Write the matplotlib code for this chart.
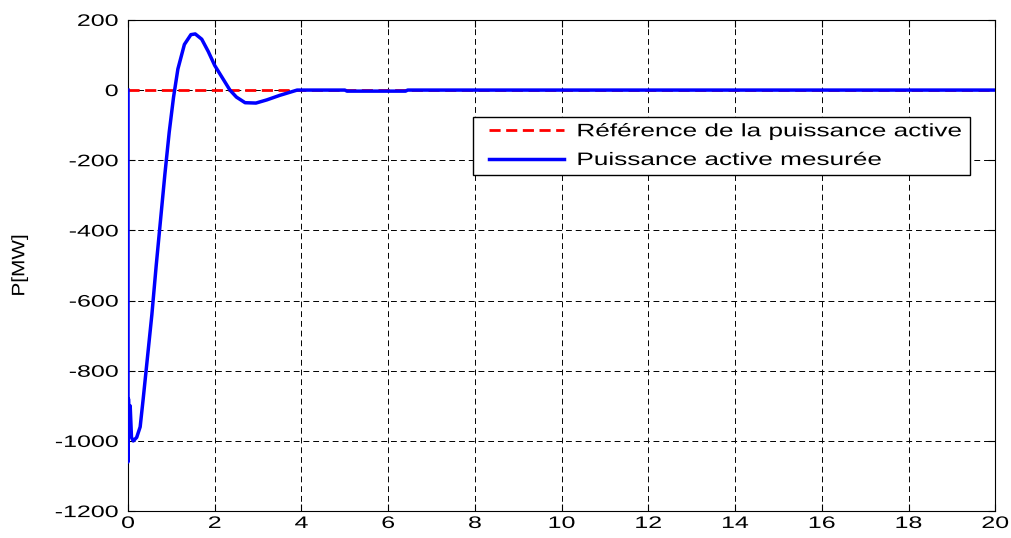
import numpy as np
import matplotlib.pyplot as plt
from matplotlib.patheffects import AbstractPathEffect
from matplotlib.transforms import Affine2D
from matplotlib.legend_handler import HandlerLine2D

plt.rcParams['font.family'] = ['Liberation Sans', 'DejaVu Sans']
plt.rcParams['axes.unicode_minus'] = False

# reference (setpoint) of active power
t_ref = [0, 20]
p_ref = [0, 0]

# measured active power [MW]
t_mes = [0, 0, 0.01, 0.03, 0.05, 0.08, 0.12, 0.2, 0.28, 0.35, 0.45, 0.55,
         0.65, 0.75, 0.85, 0.95, 1.05, 1.15, 1.3, 1.45, 1.55, 1.7, 1.85,
         2.0, 2.2, 2.35, 2.5, 2.7, 2.95, 3.2, 3.5, 3.9, 5.0, 5.05, 6.4,
         6.45, 20]
p_mes = [0, -1060, -880, -960, -900, -990, -1000, -990, -960, -880, -760,
         -640, -500, -370, -240, -120, -20, 60, 130, 158, 160, 145, 110,
         70, 30, 0, -20, -36, -37, -28, -15, 0, 0, -3, -3, 0, 0]


class Widen(AbstractPathEffect):
    """Draw text glyphs stretched along the text direction."""

    def __init__(self, sx, frac):
        super().__init__()
        self.sx = sx
        self.frac = frac  # 0 = keep left end, 0.5 = centre, 1 = right end

    def draw_path(self, renderer, gc, tpath, affine, rgbFace=None):
        ext = tpath.get_extents()
        px = ext.x0 + self.frac * ext.width
        pre = Affine2D().translate(-px, 0).scale(self.sx, 1).translate(px, 0)
        renderer.draw_path(gc, tpath, pre + affine, rgbFace)


fig = plt.figure(figsize=(10.12, 5.38), dpi=100)
ax = fig.add_axes([0.1265, 0.05, 0.857, 0.913])

l_ref, = ax.plot(t_ref, p_ref, color='red', linestyle='--', linewidth=2,
                 dashes=(4, 2), label='Référence de la puissance active',
                 zorder=3)
l_mes, = ax.plot(t_mes, p_mes, color='blue', linewidth=2.5,
                 label='Puissance active mesurée', zorder=4)

ax.set_xlim(0, 20)
ax.set_ylim(-1200, 200)
ax.set_xticks(np.arange(0, 21, 2))
ax.set_yticks(np.arange(-1200, 201, 200))
ax.grid(True, color='black', linestyle=(0, (6, 4)), linewidth=0.7)
ax.tick_params(direction='in', top=True, right=True, labelsize=12,
               length=5)
ax.tick_params(axis='y', pad=7)
for lbl in ax.get_xticklabels():
    lbl.set_path_effects([Widen(1.5, 0.5)])
for lbl in ax.get_yticklabels():
    lbl.set_path_effects([Widen(1.5, 1.0)])

ylab = ax.set_ylabel('P[MW]', fontsize=13)
ylab.set_path_effects([Widen(1.15, 0.5)])
ax.yaxis.set_label_coords(-0.115, 0.5)

pad_handler = HandlerLine2D(xpad=0.55)
leg = ax.legend(loc='upper left', bbox_to_anchor=(0.398, 0.0, 0.573, 0.8024),
                mode='expand', borderaxespad=0, fontsize=13, fancybox=False,
                framealpha=1, edgecolor='black', handlelength=4.7,
                handletextpad=0.7, borderpad=0.35, labelspacing=0.65,
                handler_map={l_ref: pad_handler, l_mes: pad_handler})
leg.get_frame().set_linewidth(1)
for txt in leg.get_texts():
    txt.set_path_effects([Widen(1.45, 0.0)])

fig.savefig('out.png', dpi=100)
